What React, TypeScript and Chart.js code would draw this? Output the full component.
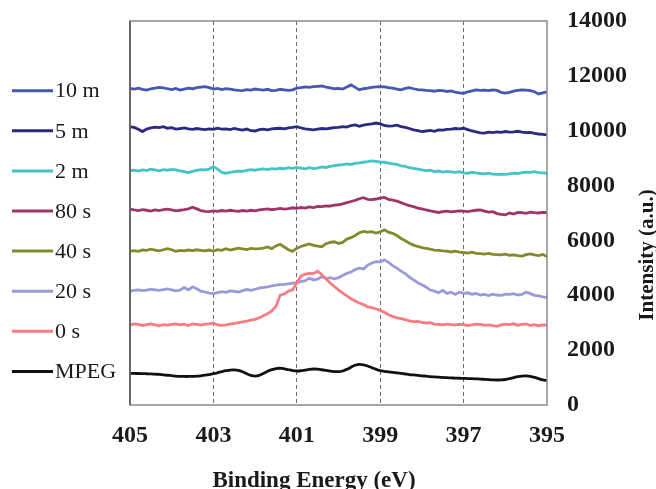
import React, { useEffect, useRef } from "react";
import { Chart, registerables } from "chart.js";

Chart.register(...registerables);

// Binding energy grid (eV)
const ENERGY = [
  405.0, 404.9, 404.8, 404.7, 404.6, 404.5, 404.4, 404.3, 404.2, 404.1,
  404.0, 403.9, 403.8, 403.7, 403.6, 403.5, 403.4, 403.3, 403.2, 403.1,
  403.0, 402.9, 402.8, 402.7, 402.6, 402.5, 402.4, 402.3, 402.2, 402.1,
  402.0, 401.9, 401.8, 401.7, 401.6, 401.5, 401.4, 401.3, 401.2, 401.1,
  401.0, 400.9, 400.8, 400.7, 400.6, 400.5, 400.4, 400.3, 400.2, 400.1,
  400.0, 399.9, 399.8, 399.7, 399.6, 399.5, 399.4, 399.3, 399.2, 399.1,
  399.0, 398.9, 398.8, 398.7, 398.6, 398.5, 398.4, 398.3, 398.2, 398.1,
  398.0, 397.9, 397.8, 397.7, 397.6, 397.5, 397.4, 397.3, 397.2, 397.1,
  397.0, 396.9, 396.8, 396.7, 396.6, 396.5, 396.4, 396.3, 396.2, 396.1,
  396.0, 395.9, 395.8, 395.7, 395.6, 395.5, 395.4, 395.3, 395.2, 395.1,
  395.0,
];

const S_10M = [
  11540, 11520, 11550, 11510, 11480, 11530, 11550, 11580, 11560, 11530,
  11500, 11540, 11480, 11520, 11550, 11530, 11570, 11590, 11610, 11570,
  11520, 11540, 11500, 11530, 11520, 11490, 11470, 11460, 11500, 11480,
  11520, 11500, 11480, 11510, 11460, 11470, 11510, 11490, 11470, 11490,
  11550, 11570, 11600, 11580, 11610, 11620, 11630, 11590, 11560, 11530,
  11540, 11520, 11590, 11670, 11580, 11490, 11530, 11550, 11580, 11600,
  11610, 11600, 11570, 11550, 11520, 11490, 11540, 11570, 11530, 11500,
  11490, 11470, 11460, 11440, 11470, 11460, 11430, 11450, 11410, 11380,
  11360, 11420, 11450, 11490, 11470, 11480, 11460, 11490, 11470, 11400,
  11370, 11400, 11440, 11470, 11490, 11480, 11460, 11420, 11340, 11380,
  11420,
];

const S_5M = [
  10140, 10120, 10050, 9970, 10060, 10100, 10130, 10110, 10150, 10090,
  10110, 10060, 10080, 10100, 10070, 10050, 10080, 10060, 10040, 10070,
  10050, 10090, 10060, 10070, 10040, 10080, 10050, 10020, 10060, 10000,
  9990, 10040, 10060, 10030, 10070, 10080, 10090, 10070, 10100, 10120,
  10150, 10100, 10070, 10050, 10030, 10060, 10080, 10070, 10090, 10110,
  10120, 10150, 10130, 10190, 10210, 10160, 10200, 10230, 10250, 10280,
  10250, 10190, 10170, 10180, 10200, 10150, 10120, 10080, 10030, 10000,
  9970, 9990, 10010, 9980, 10030, 10020, 10050, 10060, 10080, 10070,
  10090, 10040, 9990, 9960, 9920, 9910, 9950, 9930, 9960, 9940,
  9970, 9950, 9960, 9980, 9950, 9930, 9940, 9900, 9880, 9870,
  9850,
];

const S_2M = [
  8540, 8560, 8530, 8570, 8550, 8600, 8570, 8540, 8580, 8560,
  8590, 8570, 8540, 8510, 8470, 8520, 8550, 8580, 8570, 8600,
  8690, 8600, 8480, 8450, 8480, 8510, 8530, 8520, 8550, 8580,
  8560, 8590, 8610, 8580, 8620, 8600, 8630, 8610, 8650, 8630,
  8660, 8640, 8610, 8650, 8620, 8640, 8680, 8660, 8700, 8730,
  8750, 8760, 8790, 8770, 8810, 8830, 8850, 8870, 8900, 8880,
  8860, 8850, 8820, 8790, 8770, 8720, 8700, 8650, 8630, 8600,
  8570, 8540, 8560, 8510, 8530, 8490, 8520, 8500, 8480, 8510,
  8460, 8450, 8480, 8460, 8440, 8430, 8450, 8420, 8410, 8420,
  8410, 8430, 8450, 8440, 8470, 8490, 8480, 8510, 8470, 8460,
  8450,
];

const S_80S = [
  7140, 7110, 7090, 7120, 7100, 7070, 7110, 7090, 7120, 7140,
  7110, 7080, 7100, 7120, 7150, 7210, 7150, 7090, 7060, 7050,
  7080, 7060, 7090, 7070, 7100, 7080, 7060, 7090, 7070, 7100,
  7080, 7110, 7130, 7150, 7120, 7140, 7170, 7140, 7160, 7190,
  7170, 7200, 7180, 7220, 7200, 7240, 7230, 7260, 7250, 7290,
  7300, 7330, 7380, 7420, 7460, 7520, 7560, 7500, 7490, 7510,
  7540, 7570, 7500, 7470, 7430, 7380, 7320, 7270, 7230, 7180,
  7150, 7110, 7080, 7050, 7020, 7050, 7070, 7040, 7060, 7080,
  7070, 7050, 7080, 7100, 7110, 7070, 7030, 7050, 6980, 6950,
  6930, 7000, 6960, 7020, 7010, 6990, 7030, 7010, 7000, 7020,
  7010,
];

const S_40S = [
  5610, 5630, 5600, 5650, 5640, 5680, 5650, 5620, 5660, 5700,
  5660, 5600, 5640, 5620, 5650, 5630, 5660, 5640, 5620, 5650,
  5610, 5660, 5640, 5700, 5650, 5680, 5720, 5690, 5670, 5710,
  5690, 5700, 5720, 5760, 5700, 5800, 5860, 5760, 5660, 5600,
  5720, 5780, 5830, 5870, 5820, 5790, 5770, 5880, 5930, 5950,
  5890, 5930, 6050, 6100, 6180, 6280, 6330, 6300, 6320, 6270,
  6310, 6390, 6300, 6260, 6180, 6070, 5990, 5900, 5830, 5780,
  5740, 5710, 5680, 5650, 5640, 5620, 5610, 5580, 5610, 5570,
  5560, 5540, 5570, 5530, 5520, 5500, 5530, 5490, 5480, 5470,
  5500, 5460, 5470, 5450, 5430, 5480, 5510, 5470, 5450, 5490,
  5410,
];

const S_20S = [
  4150, 4180, 4200, 4170, 4190, 4220, 4200, 4180, 4210, 4230,
  4200, 4160, 4190, 4280, 4200, 4310, 4240, 4150, 4120, 4080,
  4060, 4100, 4130, 4110, 4160, 4140, 4120, 4170, 4210, 4180,
  4220, 4260, 4290, 4310, 4340, 4370, 4390, 4400, 4420, 4440,
  4460, 4500, 4530, 4620, 4560, 4590, 4680, 4610, 4640, 4600,
  4640, 4720, 4800, 4850, 4940, 4990, 4960, 5100, 5180, 5230,
  5220, 5290, 5200, 5080, 4990, 4880, 4790, 4660, 4560, 4460,
  4380, 4300, 4190, 4150, 4090, 4180, 4070, 4110, 4030, 4120,
  4060, 4090, 4040, 4070, 4010, 4030, 3990, 4040, 4010, 4000,
  4040, 4030, 4060, 4010, 4030, 4120, 4060, 4000, 3980, 3940,
  3920,
];

const S_0S = [
  2920, 2960, 2940, 2900, 2930, 2960, 2920, 2890, 2930, 2910,
  2940, 2960, 2920, 2950, 2900, 2960, 2940, 2910, 2950, 2960,
  2990, 2920, 2900, 2920, 2950, 2980, 3000, 3030, 3060, 3090,
  3120, 3180, 3250, 3330, 3430, 3600, 4000, 4050, 4150, 4200,
  4450, 4700, 4770, 4800, 4790, 4880, 4750, 4600, 4450, 4320,
  4200, 4080, 3980, 3880, 3790, 3720, 3660, 3580, 3550, 3500,
  3450, 3380, 3290, 3230, 3180, 3150, 3110, 3070, 3040, 3050,
  3010, 2990, 3000, 2950, 2940, 2920, 2950, 2930, 2920, 2940,
  2930, 2900, 2920, 2950, 2940, 2910, 2920, 2890, 2870, 2920,
  2950, 2930, 2960, 2910, 2940, 2960, 2900, 2930, 2890, 2920,
  2910,
];

const S_MPEG = [
  1150, 1150, 1148, 1145, 1140, 1135, 1125, 1115, 1100, 1085,
  1070, 1055, 1045, 1040, 1040, 1042, 1050, 1065, 1085, 1110,
  1140, 1175, 1215, 1250, 1275, 1280, 1260, 1210, 1140, 1080,
  1055, 1080, 1150, 1230, 1290, 1330, 1340, 1320, 1285, 1255,
  1240, 1250, 1275, 1300, 1312, 1305, 1285, 1260, 1235, 1220,
  1215, 1240, 1300, 1380, 1450, 1480, 1465, 1420, 1360, 1300,
  1255, 1230, 1210, 1190, 1170, 1150, 1130, 1110, 1095, 1080,
  1065, 1050, 1035, 1025, 1015, 1005, 995, 988, 980, 975,
  970, 965, 960, 952, 945, 935, 925, 918, 912, 915,
  930, 960, 1000, 1035, 1055, 1060, 1045, 1010, 960, 915,
  895,
];

const SERIES_NAMES = ["10 m", "5 m", "2 m", "80 s", "40 s", "20 s", "0 s", "MPEG"];
const SERIES_DATA = [S_10M, S_5M, S_2M, S_80S, S_40S, S_20S, S_0S, S_MPEG];
const SERIES_COLORS = [
  "#4657b2",
  "#2a2a80",
  "#45c3c6",
  "#a0346a",
  "#838a2c",
  "#9a9ad8",
  "#f87c80",
  "#111111",
];

const X_TICKS = [405, 403, 401, 399, 397, 395];
const Y_TICKS = [0, 2000, 4000, 6000, 8000, 10000, 12000, 14000];
const X_TITLE = "Binding Energy (eV)";
const Y_TITLE = "Intensity (a.u.)";

const SERIF = "'Liberation Serif', 'Times New Roman', serif";

const decorPlugin = {
  id: "decor",
  afterDatasetsDraw(chart: any) {
    const { ctx, chartArea } = chart;
    ctx.save();
    // plot frame
    ctx.strokeStyle = "#8a8a8a";
    ctx.lineWidth = 1.5;
    ctx.strokeRect(chartArea.left, chartArea.top, chartArea.right - chartArea.left, chartArea.bottom - chartArea.top);
    ctx.strokeStyle = "#555555";
    ctx.beginPath();
    ctx.moveTo(chartArea.left, chartArea.top);
    ctx.lineTo(chartArea.left, chartArea.bottom);
    ctx.stroke();

    // legend
    for (let i = 0; i < SERIES_NAMES.length; i++) {
      const y = 90.7 + i * 40.1;
      ctx.strokeStyle = SERIES_COLORS[i];
      ctx.lineWidth = 3;
      ctx.beginPath();
      ctx.moveTo(12, y);
      ctx.lineTo(53, y);
      ctx.stroke();
      ctx.fillStyle = "#1a1a1a";
      ctx.font = `22px ${SERIF}`;
      ctx.textAlign = "left";
      ctx.textBaseline = "middle";
      ctx.fillText(SERIES_NAMES[i], 55, y + 1);
    }

    // axis titles
    ctx.fillStyle = "#1a1a1a";
    ctx.font = `bold 23px ${SERIF}`;
    ctx.textAlign = "center";
    ctx.textBaseline = "alphabetic";
    ctx.fillText(X_TITLE, 314, 487);

    ctx.save();
    ctx.translate(653, 255);
    ctx.rotate(-Math.PI / 2);
    ctx.font = `bold 21px ${SERIF}`;
    ctx.textAlign = "center";
    ctx.textBaseline = "alphabetic";
    ctx.fillText(Y_TITLE, 0, 0);
    ctx.restore();
    ctx.restore();
  },
};

export default function App() {
  const ref = useRef<HTMLCanvasElement | null>(null);
  useEffect(() => {
    if (!ref.current) return;
    const datasets = SERIES_NAMES.map((name, i) => ({
      label: name,
      data: ENERGY.map((e, k) => ({ x: e, y: SERIES_DATA[i][k] })),
      borderColor: SERIES_COLORS[i],
      backgroundColor: SERIES_COLORS[i],
      borderWidth: 2.8,
      pointRadius: 0,
      tension: name === "MPEG" ? 0.4 : 0,
      fill: false,
    }));
    // draw order: first dataset on top -> put MPEG, 0 s first
    const ordered = [7, 6, 5, 4, 3, 2, 1, 0].map((i) => datasets[i]);
    const chart = new Chart(ref.current, {
      type: "line",
      data: { datasets: ordered },
      options: {
        responsive: false,
        animation: false,
        events: [],
        layout: { padding: { left: 130, top: 21, right: 0, bottom: 0 } },
        plugins: { legend: { display: false }, tooltip: { enabled: false }, title: { display: false } },
        scales: {
          x: {
            type: "linear",
            reverse: true,
            min: 395,
            max: 405,
            afterBuildTicks: (scale: any) => {
              scale.ticks = X_TICKS.map((v) => ({ value: v }));
            },
            afterFit: (scale: any) => {
              scale.height = 84;
              scale.paddingLeft = 0;
              scale.paddingRight = 0;
            },
            grid: {
              drawTicks: false,
              color: (c: any) => (c.tick && (c.tick.value === 405 || c.tick.value === 395) ? "rgba(0,0,0,0)" : "#6a6a6a"),
              lineWidth: 1,
            },
            border: { display: false, dash: [4, 3] },
            ticks: {
              padding: 16,
              color: "#1a1a1a",
              font: { family: SERIF, size: 24, weight: "bold" },
              maxRotation: 0,
              autoSkip: false,
              callback: (v: any) => String(v),
            },
          },
          y: {
            type: "linear",
            position: "right",
            min: 0,
            max: 14000,
            afterBuildTicks: (scale: any) => {
              scale.ticks = Y_TICKS.map((v) => ({ value: v }));
            },
            afterFit: (scale: any) => {
              scale.width = 109;
              scale.paddingTop = 0;
              scale.paddingBottom = 0;
            },
            grid: { display: false, drawTicks: false },
            border: { display: false },
            ticks: {
              padding: 20,
              color: "#1a1a1a",
              font: { family: SERIF, size: 24, weight: "bold" },
              callback: (v: any) => String(v),
            },
          },
        },
      } as any,
      plugins: [decorPlugin],
    });
    return () => chart.destroy();
  }, []);
  return (
    <div style={{ position: "fixed", left: 0, top: 0, width: 656, height: 489, background: "#ffffff" }}>
      <canvas ref={ref} width={656} height={489} />
    </div>
  );
}
